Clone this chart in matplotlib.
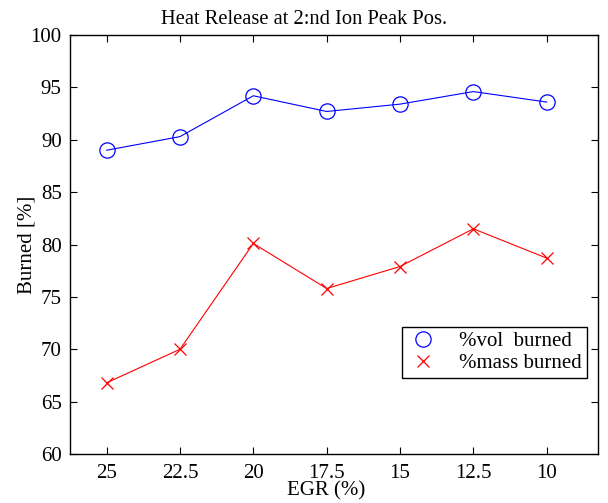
import matplotlib
matplotlib.use('Agg')
import matplotlib.pyplot as plt
from matplotlib.lines import Line2D

plt.rcParams['font.family'] = ['Liberation Serif', 'DejaVu Serif']
plt.rcParams['mathtext.fontset'] = 'stix'

egr_labels = ['25', '22.5', '20', '17.5', '15', '12.5', '10']
vol_burned = [89.0, 90.3, 94.2, 92.7, 93.4, 94.6, 93.6]
mass_burned = [66.8, 70.0, 80.1, 75.8, 77.9, 81.5, 78.7]

x = list(range(1, len(egr_labels) + 1))

fig = plt.figure(figsize=(6.08, 5.03), dpi=100)
ax = fig.add_axes([0.1151, 0.0974, 0.8685, 0.833])

ax.plot(x, vol_burned, '-o', color='#0000ff', lw=0.8, ms=11, mfc='none', mew=0.9)
ax.plot(x, mass_burned, '-x', color='#ff0000', lw=0.8, ms=8, mew=0.9)

ax.set_xlim(0.5, 7.7)
ax.set_ylim(60, 100)
ax.set_xticks(x)
ax.set_xticklabels(egr_labels)
ax.set_yticks(range(60, 101, 5))
ax.tick_params(direction='in', top=True, right=True, labelsize=15, length=5, width=0.8)
ax.tick_params(axis='x', pad=7)
ax.tick_params(axis='y', pad=6)
for s in ax.spines.values():
    s.set_linewidth(1.0)

ax.set_title('Heat Release at 2:nd Ion Peak Pos.', fontsize=14.8, pad=8, x=0.443)
ax.set_xlabel('EGR (%)', fontsize=15, labelpad=-1, x=0.485)
ax.set_ylabel('Burned [%]', fontsize=15, labelpad=-4)

handles = [Line2D([], [], ls='none', marker='o', color='#0000ff', ms=11, mfc='none', mew=0.9),
           Line2D([], [], ls='none', marker='x', color='#ff0000', ms=8, mew=0.9)]
leg = ax.legend(handles, ['%vol  burned', '%mass burned'], loc='lower right',
                bbox_to_anchor=(0.979, 0.181), borderaxespad=0, fancybox=False,
                edgecolor='black', fontsize=15, handlelength=1.5, handletextpad=1.0,
                borderpad=0.25, labelspacing=0.1, framealpha=1)
leg.get_frame().set_linewidth(1.0)

fig.savefig('out.png', dpi=100)
